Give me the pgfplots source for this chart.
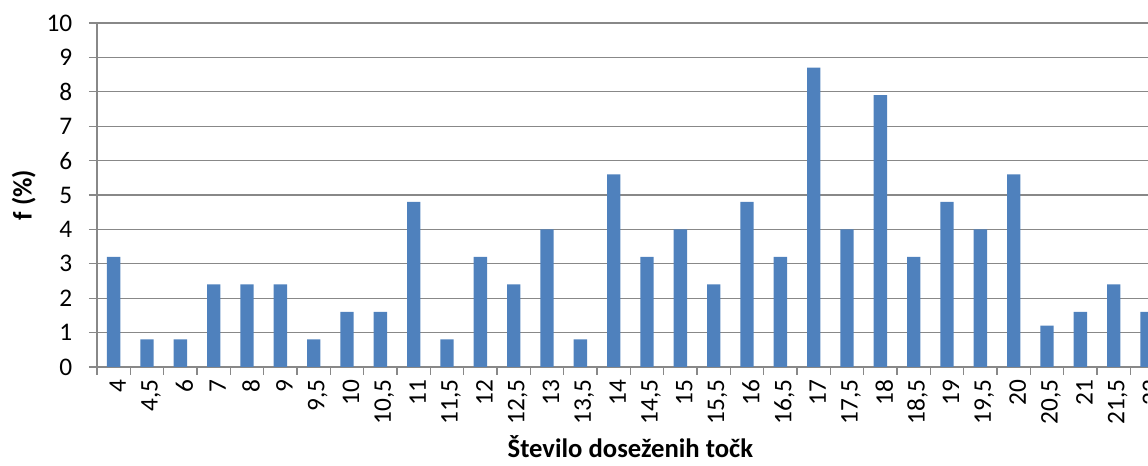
\documentclass[border=0pt]{standalone}
\usepackage{fontspec}
\setmainfont{Carlito}
\usepackage{pgfplots}
\pgfplotsset{compat=1.18}
\definecolor{barblue}{HTML}{4F81BD}
\definecolor{gridgray}{HTML}{888888}
\begin{document}
\begin{tikzpicture}
\begin{axis}[
  x=25pt, y=25.8pt,
  xmin=-0.5, xmax=31.5, ymin=0, ymax=10,
  axis lines=left,
  axis line style={gridgray, line width=0.9pt, -},
  ymajorgrids,
  grid style={gridgray, line width=0.9pt},
  tick style={gridgray, line width=0.9pt},
  major tick length=6pt,
  tick align=outside,
  ytick={0,1,...,10},
  xtick={-0.5,0.5,...,31.5},
  x tick label as interval=true,
  xticklabels={4,{4,5},6,7,8,9,{9,5},10,{10,5},11,{11,5},12,{12,5},13,{13,5},14,{14,5},15,{15,5},16,{16,5},17,{17,5},18,{18,5},19,{19,5},20,{20,5},21,{21,5},22},
  tick label style={font=\fontsize{19}{19}\selectfont, text=black},
  x tick label style={rotate=90, anchor=east, yshift=-3pt},
  y tick label style={xshift=-9pt},
  /pgf/number format/assume math mode=true,
  xlabel={Število doseženih točk},
  ylabel={f (\%)},
  every axis x label/.style={at={(axis description cs:0.5,0)}, anchor=center, yshift=-60pt, font=\bfseries\fontsize{20}{20}\selectfont},
  every axis y label/.style={at={(axis description cs:0,0.5)}, anchor=center, xshift=-55pt, rotate=90, font=\bfseries\fontsize{20}{20}\selectfont},
  clip=false,
]
\coordinate (o) at (rel axis cs:0,0);
\addplot[ybar, bar width=10pt, fill=barblue, draw=none] coordinates {
(0,3.2) (1,0.8) (2,0.8) (3,2.4) (4,2.4) (5,2.4) (6,0.8) (7,1.6) (8,1.6) (9,4.8)
(10,0.8) (11,3.2) (12,2.4) (13,4.0) (14,0.8) (15,5.6) (16,3.2) (17,4.0) (18,2.4) (19,4.8)
(20,3.2) (21,8.7) (22,4.0) (23,7.9) (24,3.2) (25,4.8) (26,4.0) (27,5.6) (28,1.2) (29,1.6)
(30,2.4) (31,1.6)
};
\end{axis}
\pgfresetboundingbox
\path[use as bounding box] (o) ++(-72.75pt,-74.25pt) rectangle ++(861pt,349.5pt);
\end{tikzpicture}
\end{document}
